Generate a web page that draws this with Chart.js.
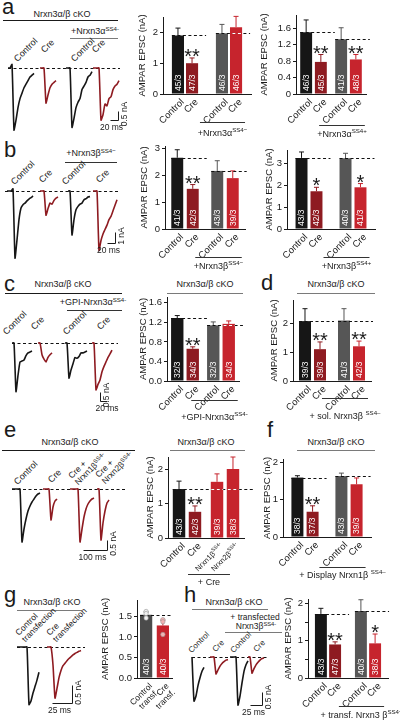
<!DOCTYPE html>
<html>
<head>
<meta charset="utf-8">
<script src="https://cdn.jsdelivr.net/npm/chart.js@4.4.1/dist/chart.umd.min.js"></script>
<style>
html, body { margin: 0; padding: 0; background: #fff; }
#fig { position: relative; width: 400px; height: 726px; overflow: hidden; font-family: "Liberation Sans", Arial, sans-serif; color: #1a1a1a; }
#fig canvas { position: absolute; }
.t { position: absolute; white-space: nowrap; line-height: 1; }
.t .sup { font-size: 0.68em; position: relative; top: -0.5em; }
.ln { position: absolute; height: 0; }
</style>
</head>
<body>
<div id="fig"></div>
<script>
// ---------- bar data (mean, sem, n cells/cultures, significance) ----------
const A1_LABELS = ['Control', 'Cre', 'Control', 'Cre'];
const A1_GROUPS = ['', '+Nrxn3α^{SS4−}'];
const A1_MEAN = [1.90, 1.00, 1.97, 2.17];
const A1_SEM = [0.24, 0.17, 0.29, 0.35];
const A1_N = ['45/3', '47/3', '46/3', '46/3'];
const A1_SIG = ['', '**', '', ''];

const A2_LABELS = ['Control', 'Cre', 'Control', 'Cre'];
const A2_GROUPS = ['', '+Nrxn3α^{SS4+}'];
const A2_MEAN = [1.50, 0.78, 1.33, 0.84];
const A2_SEM = [0.30, 0.18, 0.28, 0.12];
const A2_N = ['46/3', '45/3', '41/3', '48/3'];
const A2_SIG = ['', '**', '', '**'];

const B1_LABELS = ['Control', 'Cre', 'Control', 'Cre'];
const B1_GROUPS = ['', '+Nrxn3β^{SS4−}'];
const B1_MEAN = [2.66, 1.50, 2.17, 1.90];
const B1_SEM = [0.30, 0.16, 0.38, 0.27];
const B1_N = ['41/3', '42/3', '43/3', '39/3'];
const B1_SIG = ['', '**', '', ''];

const B2_LABELS = ['Control', 'Cre', 'Control', 'Cre'];
const B2_GROUPS = ['', '+Nrxn3β^{SS4+}'];
const B2_MEAN = [3.24, 1.72, 3.22, 1.90];
const B2_SEM = [0.27, 0.18, 0.23, 0.17];
const B2_N = ['43/3', '42/3', '40/3', '41/3'];
const B2_SIG = ['', '*', '', '*'];

const C_LABELS = ['Control', 'Cre', 'Control', 'Cre'];
const C_GROUPS = ['', '+GPI-Nrxn3α^{SS4-}'];
const C_MEAN = [1.29, 0.66, 1.14, 1.17];
const C_SEM = [0.05, 0.04, 0.07, 0.06];
const C_N = ['32/3', '34/3', '32/3', '34/3'];
const C_SIG = ['', '**', '', ''];

const D_LABELS = ['Control', 'Cre', 'Control', 'Cre'];
const D_GROUPS = ['', '+ sol. Nrxn3β ^{SS4–}'];
const D_MEAN = [2.07, 1.10, 2.09, 1.20];
const D_SEM = [0.43, 0.25, 0.41, 0.18];
const D_N = ['39/3', '39/3', '41/3', '42/3'];
const D_SIG = ['', '**', '', '**'];

const E_LABELS = ['Control', 'Cre', 'Nrxn1β^{SS4-}', 'Nrxn2β^{SS4-}'];
const E_GROUPS = ['', '+ Cre'];
const E_MEAN = [1.42, 0.76, 1.63, 2.00];
const E_SEM = [0.23, 0.17, 0.23, 0.35];
const E_N = ['43/3', '42/3', '39/3', '38/3'];
const E_SIG = ['', '**', '', ''];

const F_LABELS = ['Control', 'Cre', 'Control', 'Cre'];
const F_GROUPS = ['', '+ Display Nrxn1β ^{SS4–}'];
const F_MEAN = [1.60, 0.68, 1.64, 1.42];
const F_SEM = [0.05, 0.16, 0.08, 0.17];
const F_N = ['38/3', '37/3', '43/3', '39/3'];
const F_SIG = ['', '**', '', ''];

const G_LABELS = ['Control\ntransf.', 'Cre\ntransf.'];
const G_GROUPS = [''];
const G_MEAN = [1.54, 1.28];
const G_SEM = [0.07, 0.13];
const G_N = ['40/3', '40/3'];
const G_SIG = ['', ''];
const G_DOTS_CTRL = [1.62, 1.57, 1.46];
const G_DOTS_CRE = [1.42, 1.37, 1.06];

const H_LABELS = ['Control', 'Cre', 'Control', 'Cre'];
const H_GROUPS = ['', '+ transf. Nrxn3 β^{SS4−}'];
const H_MEAN = [1.72, 0.90, 1.80, 0.93];
const H_SEM = [0.15, 0.07, 0.30, 0.25];
const H_N = ['43/3', '47/3', '40/3', '38/3'];
const H_SIG = ['', '**', '', '*'];

// ---------- example EPSC traces (nA), one sample per 2 px of the figure ----------
const A_CTRL = [0, 0, 0.2, -3.45, -2.9, -2.2, -1.7, -1.4, -1.1, -0.9, -0.7, -0.5, -0.4, -0.3];
const A_CRE = [0, 0, 0, -1.95, -1.5, -1.1, -0.9, -0.8, -0.7];
const A_CTRL_R = [0, 0, 0, -3.3, -2.8, -2.2, -1.9, -1.7, -1.2, -1.0, -0.8, -0.5, -0.4, -0.2];
const A_CRE_R = [0, 0, 0, 0, -2.9, -2.6, -2.0, -2.1, -1.7, -1.6, -1.2, -1.0, -0.9, -0.7];

const B_CTRL = [0, 0, 0, 0.2, -6.1, -4.45, -2.6, -1.55, -1.25, -1.1, -0.9, -0.73, -0.6, -0.45];
const B_CRE = [0, 0, 0, -2.2, -1.6, -1.1, -1.2, -0.85, -0.65, -0.55];
const B_CTRL_R = [0, 0, -4.0, -2.6, -1.7, -1.4, -1.2, -1.1, -0.8, -0.7, -0.55, -0.5];
const B_CRE_R = [0, 0, 0, -5.4, -4.5, -3.9, -3.5, -3.1, -2.6, -2.3, -1.8, -1.3, -0.8];

const C_CTRL = [0, 0, -2.7, -1.8, -1.05, -1.0, -0.95, -0.7, -0.55, -0.5, -0.45];
const C_CRE = [0, 0, -0.65, -0.9, -1.05, -0.8, -0.65, -0.55];
const C_CTRL_R = [0, 0, -1.95, -1.5, -1.15, -0.8, -0.85, -0.75, -0.55, -0.55, -0.5, -0.45];
const C_CRE_R = [0, 0, -2.6, -2.3, -2.05, -1.6, -1.3, -1.05, -0.8, -0.6, -0.4];

const E_CTRL = [0, 0, 0, 0, 0, -2.65, -2.0, -1.5, -1.1, -0.85, -0.65, -0.5, -0.35, -0.25, -0.2];
const E_CRE = [0, 0, 0, 0, -1.55, -0.9, -0.6, -0.5];
const E_CRE_N1 = [0, 0, 0, 0, 0, -2.65, -2.0, -1.4, -1.0, -0.75, -0.6, -0.5, -0.45];
const E_CRE_N2 = [0, 0, -2.55, -1.7, -1.1, -0.7, -0.55];

const G_CTRL = [0, 0, 0, 0, 0, 0, -1.6, -1.5, -1.28, -1.1, -0.92, -0.7];
const G_CRE = [0, 0, 0, -0.5, -1.42, -1.15, -0.85, -0.65, -0.52, -0.45, -0.38, -0.32, -0.27, -0.22, -0.18, -0.15, -0.12, -0.1];

const H_CTRL = [0, -1.7, -1.5, -1.1, -0.8, -0.55, -0.4];
const H_CRE = [0, 0, 0, -0.65, -0.5, -0.35, -0.25, -0.18, -0.12, -0.1];
const H_CTRL_R = [0, 0, 0, 0, -1.85, -1.5, -1.0, -0.55, -0.3, -0.15];
const H_CRE_R = [0, 0, -0.62, -0.45, -0.3, -0.2, -0.12, -0.06, -0.03];

// ---------- styles ----------
const BLACK = '#161616', GRAY = '#565656', DARKRED = '#8e1b21', RED = '#c6242d';
const TRACE_BLACK = '#161616', TRACE_RED = '#8e1b21';
const FONT = '"Liberation Sans", Arial, sans-serif';
const BASE = 0.8465;      // baseline position inside a line-height:1 box
const SAMPLE_PX = 2;

Chart.defaults.font.family = FONT;
Chart.defaults.color = '#1a1a1a';

const fig = document.getElementById('fig');
const font = s => s + 'px ' + FONT;

function makeCanvas(left, top, w, h) {
    const c = document.createElement('canvas');
    c.width = w; c.height = h;
    c.style.left = left + 'px'; c.style.top = top + 'px';
    c.style.width = w + 'px'; c.style.height = h + 'px';
    fig.appendChild(c);
    return c;
}

// split "Nrxn3α^{SS4−}" into normal / superscript parts
function segs(s) {
    const out = [], re = /\^\{([^}]*)\}/g;
    let last = 0, m;
    while ((m = re.exec(s))) {
        if (m.index > last) out.push({ t: s.slice(last, m.index), sup: false });
        out.push({ t: m[1], sup: true });
        last = re.lastIndex;
    }
    if (last < s.length) out.push({ t: s.slice(last), sup: false });
    return out;
}
function drawRich(ctx, s, x, y, size, align) {
    const parts = segs(s);
    let w = 0;
    parts.forEach(p => { ctx.font = font(p.sup ? size * 0.68 : size); p.w = ctx.measureText(p.t).width; w += p.w; });
    let cx = align === 'right' ? x - w : align === 'center' ? x - w / 2 : x;
    ctx.textAlign = 'left'; ctx.textBaseline = 'alphabetic';
    parts.forEach(p => {
        ctx.font = font(p.sup ? size * 0.68 : size);
        ctx.fillText(p.t, cx, p.sup ? y - size * 0.45 : y);
        cx += p.w;
    });
}
const richHtml = s => segs(s).map(p => p.sup ? '<span class="sup">' + p.t + '</span>' : p.t).join('');

// ---------- bar charts ----------
function barExtras(cfg, colorOf) {
    return {
        id: 'barExtras',
        afterDatasetsDraw(chart) {
            const ctx = chart.ctx, ys = chart.scales.y;
            const y0 = ys.getPixelForValue(0);
            const bars = cfg.mean.map((m, j) => {
                const el = chart.getDatasetMeta(j % 2).data[Math.floor(j / 2)];
                return { x: el.x, w: el.width, top: ys.getPixelForValue(m), err: ys.getPixelForValue(m + cfg.sem[j]), color: colorOf(j) };
            });
            ctx.save();
            // error bars
            ctx.lineWidth = 1;
            bars.forEach(b => {
                ctx.strokeStyle = b.color;
                ctx.beginPath();
                ctx.moveTo(b.x, b.top); ctx.lineTo(b.x, b.err);
                ctx.moveTo(b.x - 2.5, b.err); ctx.lineTo(b.x + 2.5, b.err);
                ctx.stroke();
            });
            // dashed control level
            const dashes = cfg.dash || cfg.groups.map((g, gi) => [gi * 2, gi * 2 + 1, 8]);
            dashes.forEach(([i0, i1, ext]) => {
                const v = Math.round(ys.getPixelForValue(cfg.mean[i0])) + 0.5;
                const xa = bars[i0].x - bars[i0].w / 2, xb = bars[i1].x + bars[i1].w / 2 + ext;
                ctx.setLineDash([3, 2.5]);
                ctx.strokeStyle = '#111';
                ctx.beginPath(); ctx.moveTo(xa, v); ctx.lineTo(xb, v); ctx.stroke();
                for (let j = i0; j <= i1; j++) {
                    const b = bars[j];
                    if (b.top < v - 1 && b.color !== BLACK) {
                        ctx.save();
                        ctx.beginPath(); ctx.rect(b.x - b.w / 2, b.top, b.w, y0 - b.top); ctx.clip();
                        ctx.strokeStyle = '#fff';
                        ctx.beginPath(); ctx.moveTo(xa, v); ctx.lineTo(xb, v); ctx.stroke();
                        ctx.restore();
                    }
                }
            });
            ctx.setLineDash([]);
            // individual culture points
            if (cfg.dots) {
                cfg.dots.forEach((pts, j) => pts.forEach(p => {
                    ctx.beginPath();
                    ctx.arc(bars[j].x, ys.getPixelForValue(p), 2.2, 0, Math.PI * 2);
                    ctx.fillStyle = j === 0 ? '#eeeeee' : '#f2b2b2';
                    ctx.fill();
                    ctx.strokeStyle = '#999'; ctx.lineWidth = 0.6; ctx.stroke();
                }));
            }
            // n labels inside bars
            ctx.fillStyle = '#fff';
            ctx.font = font(8.5);
            bars.forEach((b, j) => {
                ctx.save();
                ctx.translate(b.x + 0.5, y0 - 3);
                ctx.rotate(-Math.PI / 2);
                ctx.textAlign = 'left'; ctx.textBaseline = 'middle';
                ctx.fillText(cfg.n[j], 0, 0);
                ctx.restore();
            });
            // significance stars
            ctx.fillStyle = '#1a1a1a';
            ctx.font = font(20);
            ctx.textAlign = 'center'; ctx.textBaseline = 'alphabetic';
            bars.forEach((b, j) => { if (cfg.sig[j]) ctx.fillText(cfg.sig[j], b.x, b.err + 5); });
            // rotated category labels (labels with superscripts are set smaller)
            const lh = cfg.lh || 10;
            bars.forEach((b, j) => {
                const label = cfg.labels[j];
                const ls = label.includes('^{') ? 7.5 : (cfg.lsize || 9.5);
                ctx.save();
                ctx.translate(b.x + 4, y0 + 6);
                ctx.rotate(-Math.PI / 4);
                label.split('\n').forEach((ln, li) => drawRich(ctx, ln, 0, 3.5 + li * lh, ls, 'right'));
                ctx.restore();
            });
            // condition label under a pair
            const gx = cfg.gx || [-22, 9];
            cfg.groups.forEach((g, gi) => {
                if (!g) return;
                const xa = bars[gi * 2].x + gx[0], xb = bars[gi * 2 + 1].x + gx[1];
                const yl = Math.round(y0 + cfg.gdy) + 0.5;
                ctx.strokeStyle = '#333'; ctx.lineWidth = 1;
                ctx.beginPath(); ctx.moveTo(xa, yl); ctx.lineTo(xb, yl); ctx.stroke();
                ctx.fillStyle = '#1a1a1a';
                drawRich(ctx, g, (xa + xb) / 2, y0 + cfg.gtext, 9, 'center');
            });
            ctx.restore();
        }
    };
}

const FORMATS = {
    int: v => Math.abs(v - Math.round(v)) < 1e-6 ? String(Math.round(v)) : '',
    dec: v => v.toFixed(1),
    dec0: v => Math.abs(v) < 1e-6 ? '0' : v.toFixed(1)
};

function drawBarChart(cfg) {
    const nG = cfg.groups.length;
    const padT = 8, padR = 22;
    const left = cfg.ax - cfg.yw;
    const top = Math.round(cfg.y0 - cfg.yMax * cfg.k - padT);
    const width = Math.round(cfg.ax + nG * cfg.w + padR - left);
    const bottom = cfg.gtext + 8;
    const height = Math.round(cfg.y0 + bottom - top);
    const canvas = makeCanvas(left, top, width, height);
    const colorOf = j => (j % 2 === 0 ? cfg.ctrl : cfg.cre)[Math.floor(j / 2)];
    const datasets = [0, 1].map(s => ({
        data: cfg.groups.map((g, gi) => cfg.mean[gi * 2 + s]),
        backgroundColor: cfg.groups.map((g, gi) => colorOf(gi * 2 + s)),
        borderWidth: 0,
        categoryPercentage: cfg.cp,
        barPercentage: cfg.bp
    }));
    new Chart(canvas, {
        type: 'bar',
        data: { labels: cfg.groups, datasets },
        options: {
            responsive: false,
            animation: false,
            devicePixelRatio: 1,
            layout: { padding: { top: padT, right: padR, left: 0, bottom: 0 } },
            plugins: { legend: { display: false }, tooltip: { enabled: false } },
            scales: {
                x: {
                    grid: { display: false },
                    ticks: { display: false },
                    border: { color: '#1a1a1a', width: 1 },
                    afterFit: s => { s.height = bottom; }
                },
                y: {
                    min: 0, max: cfg.yMax,
                    grid: { display: true, drawOnChartArea: false, drawTicks: true, tickLength: 3, color: '#1a1a1a' },
                    border: { color: '#1a1a1a', width: 1 },
                    ticks: { stepSize: cfg.step, includeBounds: false, padding: 2, color: '#1a1a1a', font: { size: 9.5 }, callback: FORMATS[cfg.fmt] },
                    title: { display: true, text: 'AMPAR EPSC (nA)', color: '#1a1a1a', font: { size: 9.5 }, padding: { top: 4, bottom: 0 } },
                    afterFit: s => { s.width = cfg.yw; }
                }
            }
        },
        plugins: [barExtras(cfg, colorOf)]
    });
}

// ---------- trace panels ----------
function traceExtras(cfg) {
    return {
        id: 'traceExtras',
        beforeDatasetsDraw(chart) {
            const ctx = chart.ctx, ys = chart.scales.y;
            const y = Math.round(ys.getPixelForValue(0)) + 0.5;
            ctx.save();
            ctx.setLineDash([3, 2.5]);
            ctx.strokeStyle = '#111'; ctx.lineWidth = 1;
            ctx.beginPath(); ctx.moveTo(cfg.dash[0] - cfg.left, y); ctx.lineTo(cfg.dash[1] - cfg.left, y); ctx.stroke();
            ctx.restore();
        },
        afterDatasetsDraw(chart) {
            const ctx = chart.ctx, xs = chart.scales.x, ys = chart.scales.y;
            const sb = cfg.bar;
            const hl = xs.getPixelForValue(sb.ms) - xs.getPixelForValue(0);
            const vl = ys.getPixelForValue(0) - ys.getPixelForValue(sb.nA);
            const cx = sb.x - cfg.left + 0.5, cy = sb.y - cfg.top + 0.5;
            ctx.save();
            ctx.strokeStyle = '#1a1a1a'; ctx.lineWidth = 1;
            ctx.beginPath();
            const vx = cx, hx0 = sb.side === 'right' ? cx - hl : cx;
            ctx.moveTo(hx0, cy); ctx.lineTo(hx0 + hl, cy);
            ctx.moveTo(vx, cy); ctx.lineTo(vx, cy - vl);
            ctx.stroke();
            ctx.fillStyle = '#1a1a1a';
            ctx.font = font(8.5);
            ctx.textAlign = 'center'; ctx.textBaseline = 'top';
            ctx.fillText(sb.tLabel, hx0 + hl / 2 - (sb.side === 'right' ? 3 : -3), cy + 3);
            ctx.translate(vx + 6, cy - vl / 2 - 2);
            ctx.rotate(-Math.PI / 2);
            ctx.textBaseline = 'middle';
            ctx.fillText(sb.aLabel, 0, 0);
            ctx.restore();
        }
    };
}

function drawTraces(cfg) {
    const canvas = makeCanvas(cfg.left, cfg.top, cfg.width, cfg.height);
    const dt = SAMPLE_PX / cfg.kx;
    const datasets = cfg.traces.map(tr => ({
        data: tr.values.map((v, i) => ({ x: (tr.start - cfg.left) / cfg.kx + i * dt, y: v })),
        borderColor: tr.color,
        borderWidth: 1.6,
        pointRadius: 0,
        tension: 0.15,
        fill: false
    }));
    new Chart(canvas, {
        type: 'line',
        data: { datasets },
        options: {
            responsive: false,
            animation: false,
            devicePixelRatio: 1,
            layout: { padding: 0 },
            plugins: { legend: { display: false }, tooltip: { enabled: false } },
            scales: {
                x: { type: 'linear', display: false, min: 0, max: cfg.width / cfg.kx },
                y: { display: false, min: -(cfg.top + cfg.height - cfg.base) / cfg.ky, max: (cfg.base - cfg.top) / cfg.ky }
            }
        },
        plugins: [traceExtras(cfg)]
    });
}

// ---------- html labels ----------
function text(s, x, y, o = {}) {
    const el = document.createElement('div');
    el.className = 't';
    const fs = o.size || 9;
    el.innerHTML = o.html ? s : richHtml(s);
    el.style.fontSize = fs + 'px';
    el.style.left = x + 'px';
    el.style.top = (y - BASE * fs) + 'px';
    if (o.lh) el.style.lineHeight = o.lh;
    if (o.center) el.style.transform = 'translateX(-50%)';
    if (o.rot) {
        el.style.transformOrigin = '0 ' + (BASE * fs) + 'px';
        el.style.transform = 'rotate(-45deg)';
    }
    fig.appendChild(el);
}
function hline(x1, x2, y, color, w) {
    const el = document.createElement('div');
    el.className = 'ln';
    el.style.left = x1 + 'px'; el.style.top = y + 'px'; el.style.width = (x2 - x1) + 'px';
    el.style.borderTop = (w || 1.2) + 'px solid ' + (color || '#1a1a1a');
    fig.appendChild(el);
}

const LINE_GRAY = '#7a7a7a';
function drawLabels() {
    const L = 22;
    // panel letters
    text('a', 2, 15, { size: L }); text('b', 4, 158, { size: L }); text('c', 4, 292, { size: L });
    text('d', 261, 291, { size: L }); text('e', 4, 438, { size: L }); text('f', 267, 438, { size: L });
    text('g', 4, 603, { size: L }); text('h', 184, 603, { size: L });

    // a
    text('Nrxn3α/β cKO', 62, 18, { center: true }); hline(3, 118, 20);
    text('+Nrxn3α^{SS4-}', 95, 35, { center: true }); hline(70, 118, 38, LINE_GRAY);
    text('Control', 18, 63, { rot: true }); text('Cre', 45, 54, { rot: true });
    text('Control', 75, 63, { rot: true }); text('Cre', 96, 54, { rot: true });
    // b
    text('+Nrxn3β^{SS4−}', 91, 157, { center: true }); hline(65, 117, 162, '#333');
    text('Control', 15, 186, { rot: true }); text('Cre', 43, 184, { rot: true });
    text('Control', 66, 186, { rot: true }); text('Cre', 100, 184, { rot: true });
    // c
    text('Nrxn3α/β cKO', 63, 288, { center: true }); hline(5, 122, 293);
    text('+GPI-Nrxn3α^{SS4-}', 93, 306, { center: true }); hline(67, 122, 310, '#333');
    text('Control', 7, 336, { rot: true }); text('Cre', 35, 331, { rot: true });
    text('Control', 67, 336, { rot: true }); text('Cre', 101, 331, { rot: true });
    text('Nrxn3α/β cKO', 205, 288, { center: true }); hline(167, 243, 293, LINE_GRAY);
    // d
    text('Nrxn3α/β cKO', 336, 288, { center: true }); hline(297, 375, 293, LINE_GRAY);
    // e
    text('Nrxn3α/β cKO', 70, 446, { center: true }); hline(2, 135, 450);
    text('Control', 18, 486, { rot: true }); text('Cre', 52, 484, { rot: true });
    text('Cre +<br>Nrxn1β<span class="sup">SS4-</span>', 72, 479, { rot: true, html: true, size: 8.5 });
    text('Cre +<br>Nrxn2β<span class="sup">SS4-</span>', 99, 478, { rot: true, html: true, size: 8.5 });
    text('Nrxn3α/β cKO', 206, 446, { center: true }); hline(170, 245, 450, LINE_GRAY);
    // f
    text('Nrxn3α/β cKO', 336, 446, { center: true }); hline(297, 375, 450, LINE_GRAY);
    // g
    text('Nrxn3α/β cKO', 52, 606, { center: true }); hline(17, 82, 610, LINE_GRAY);
    text('Control<br>transfection', 19, 636, { rot: true, html: true, size: 8.5, lh: 1.05 });
    text('Cre<br>transfection', 50, 636, { rot: true, html: true, size: 8.5, lh: 1.05 });
    // h
    text('Nrxn3α/β cKO', 234, 606, { center: true }); hline(192, 268, 609, LINE_GRAY);
    text('+ transfected', 255, 620, { center: true, size: 8.5 });
    text('Nrxn3β^{SS4-}', 256, 629, { center: true, size: 8.5 }); hline(225, 282, 632, LINE_GRAY);
    text('Control', 192, 654, { rot: true, size: 8 }); text('Cre', 216, 653, { rot: true, size: 8 });
    text('Control', 234, 654, { rot: true, size: 8 }); text('Cre', 257, 653, { rot: true, size: 8 });
}

// ---------- layout ----------
const BAR_CHARTS = [
    { labels: A1_LABELS, groups: A1_GROUPS, mean: A1_MEAN, sem: A1_SEM, n: A1_N, sig: A1_SIG,
      ax: 163, y0: 94, k: 31, yMax: 2.5, step: 1, fmt: 'int', w: 44, cp: 0.64, bp: 0.86, yw: 30, gdy: 28, gtext: 42,
      ctrl: [BLACK, GRAY], cre: [DARKRED, RED] },
    { labels: A2_LABELS, groups: A2_GROUPS, mean: A2_MEAN, sem: A2_SEM, n: A2_N, sig: A2_SIG,
      ax: 296, y0: 94, k: 41.25, yMax: 1.92, step: 0.4, fmt: 'dec0', w: 35, cp: 0.84, bp: 0.81, yw: 41, gdy: 31, gtext: 43,
      ctrl: [BLACK, GRAY], cre: [DARKRED, RED] },
    { labels: B1_LABELS, groups: B1_GROUPS, mean: B1_MEAN, sem: B1_SEM, n: B1_N, sig: B1_SIG,
      ax: 165, y0: 229, k: 26.7, yMax: 3.1, step: 1, fmt: 'int', w: 40, cp: 0.775, bp: 0.77, yw: 30, gdy: 28, gtext: 40,
      ctrl: [BLACK, GRAY], cre: [DARKRED, RED] },
    { labels: B2_LABELS, groups: B2_GROUPS, mean: B2_MEAN, sem: B2_SEM, n: B2_N, sig: B2_SIG,
      ax: 287, y0: 229, k: 22, yMax: 3.6, step: 1, fmt: 'int', w: 44, cp: 0.68, bp: 0.8, yw: 27, gdy: 28, gtext: 40,
      ctrl: [BLACK, GRAY], cre: [DARKRED, RED] },
    { labels: C_LABELS, groups: C_GROUPS, mean: C_MEAN, sem: C_SEM, n: C_N, sig: C_SIG,
      ax: 167, y0: 381, k: 48.75, yMax: 1.72, step: 0.4, fmt: 'dec', w: 36, cp: 0.86, bp: 0.8, yw: 33, gdy: 19, gtext: 39,
      ctrl: [BLACK, GRAY], cre: [DARKRED, RED] },
    { labels: D_LABELS, groups: D_GROUPS, mean: D_MEAN, sem: D_SEM, n: D_N, sig: D_SIG,
      ax: 293, y0: 381, k: 29, yMax: 2.8, step: 1, fmt: 'int', w: 39, cp: 0.77, bp: 0.8, yw: 28, gdy: 17, gtext: 38,
      ctrl: [BLACK, GRAY], cre: [DARKRED, RED] },
    { labels: E_LABELS, groups: E_GROUPS, mean: E_MEAN, sem: E_SEM, n: E_N, sig: E_SIG,
      ax: 168, y0: 538, k: 34.5, yMax: 2.35, step: 1, fmt: 'int', w: 38, cp: 0.84, bp: 0.78, yw: 27, gdy: 36, gtext: 47,
      gx: [-29, -3], dash: [[0, 3, 15]],
      ctrl: [BLACK, RED], cre: [DARKRED, RED] },
    { labels: F_LABELS, groups: F_GROUPS, mean: F_MEAN, sem: F_SEM, n: F_N, sig: F_SIG,
      ax: 283, y0: 537, k: 37, yMax: 2.1, step: 1, fmt: 'int', w: 44, cp: 0.69, bp: 0.79, yw: 25, gdy: 30, gtext: 41,
      ctrl: [BLACK, GRAY], cre: [DARKRED, RED] },
    { labels: G_LABELS, groups: G_GROUPS, mean: G_MEAN, sem: G_SEM, n: G_N, sig: G_SIG,
      ax: 137, y0: 678, k: 41, yMax: 1.9, step: 0.5, fmt: 'dec', w: 34.5, cp: 0.957, bp: 0.73, yw: 41, gdy: 30, gtext: 40,
      dash: [[0, 1, 4]], dots: [G_DOTS_CTRL, G_DOTS_CRE], lsize: 8.5, lh: 9,
      ctrl: ['#4b4b4b'], cre: [RED] },
    { labels: H_LABELS, groups: H_GROUPS, mean: H_MEAN, sem: H_SEM, n: H_N, sig: H_SIG,
      ax: 308, y0: 678, k: 37.5, yMax: 2.12, step: 0.5, fmt: 'int', w: 40, cp: 0.71, bp: 0.84, yw: 29, gdy: 28, gtext: 40,
      ctrl: [BLACK, GRAY], cre: [DARKRED, RED] }
];

const TRACE_PANELS = [
    { left: 0, top: 40, width: 130, height: 100, base: 68, ky: 18, kx: 0.4, dash: [8, 120],
      traces: [{ values: A_CTRL, start: 8, color: TRACE_BLACK }, { values: A_CRE, start: 40, color: TRACE_RED },
               { values: A_CTRL_R, start: 66, color: TRACE_BLACK }, { values: A_CRE_R, start: 93, color: TRACE_RED }],
      bar: { x: 118, y: 120, ms: 20, nA: 0.5, side: 'right', tLabel: '20 ms', aLabel: '0.5 nA' } },
    { left: 0, top: 165, width: 130, height: 100, base: 191, ky: 11, kx: 0.4, dash: [5, 118],
      traces: [{ values: B_CTRL, start: 7, color: TRACE_BLACK }, { values: B_CRE, start: 40, color: TRACE_RED },
               { values: B_CTRL_R, start: 68, color: TRACE_BLACK }, { values: B_CRE_R, start: 93, color: TRACE_RED }],
      bar: { x: 115, y: 243, ms: 20, nA: 1, side: 'right', tLabel: '20 ms', aLabel: '1 nA' } },
    { left: 0, top: 315, width: 130, height: 100, base: 343, ky: 18, kx: 0.35, dash: [12, 118],
      traces: [{ values: C_CTRL, start: 12, color: TRACE_BLACK }, { values: C_CRE, start: 38, color: TRACE_RED },
               { values: C_CTRL_R, start: 65, color: TRACE_BLACK }, { values: C_CRE_R, start: 92, color: TRACE_RED }],
      bar: { x: 100, y: 401, ms: 20, nA: 0.5, side: 'left', tLabel: '20 ms', aLabel: '0.5 nA' } },
    { left: 0, top: 460, width: 135, height: 105, base: 489, ky: 20, kx: 0.24, dash: [12, 125],
      traces: [{ values: E_CTRL, start: 12, color: TRACE_BLACK }, { values: E_CRE, start: 43, color: TRACE_RED },
               { values: E_CRE_N1, start: 70, color: TRACE_RED }, { values: E_CRE_N2, start: 97, color: TRACE_RED }],
      bar: { x: 107, y: 550, ms: 100, nA: 0.5, side: 'right', tLabel: '100 ms', aLabel: '0.5 nA' } },
    { left: 0, top: 620, width: 100, height: 106, base: 647, ky: 36, kx: 0.8, dash: [17, 85],
      traces: [{ values: G_CTRL, start: 17, color: TRACE_BLACK }, { values: G_CRE, start: 47, color: TRACE_RED }],
      bar: { x: 72, y: 703, ms: 25, nA: 0.5, side: 'right', tLabel: '25 ms', aLabel: '0.5 nA' } },
    { left: 185, top: 630, width: 95, height: 96, base: 657, ky: 26, kx: 0.48, dash: [192, 268],
      traces: [{ values: H_CTRL, start: 192, color: TRACE_BLACK }, { values: H_CRE, start: 210, color: TRACE_RED },
               { values: H_CTRL_R, start: 230, color: TRACE_BLACK }, { values: H_CRE_R, start: 248, color: TRACE_RED }],
      bar: { x: 262, y: 705, ms: 25, nA: 0.5, side: 'right', tLabel: '25 ms', aLabel: '0.5 nA' } }
];

drawLabels();
TRACE_PANELS.forEach(drawTraces);
BAR_CHARTS.forEach(drawBarChart);
</script>
</body>
</html>
